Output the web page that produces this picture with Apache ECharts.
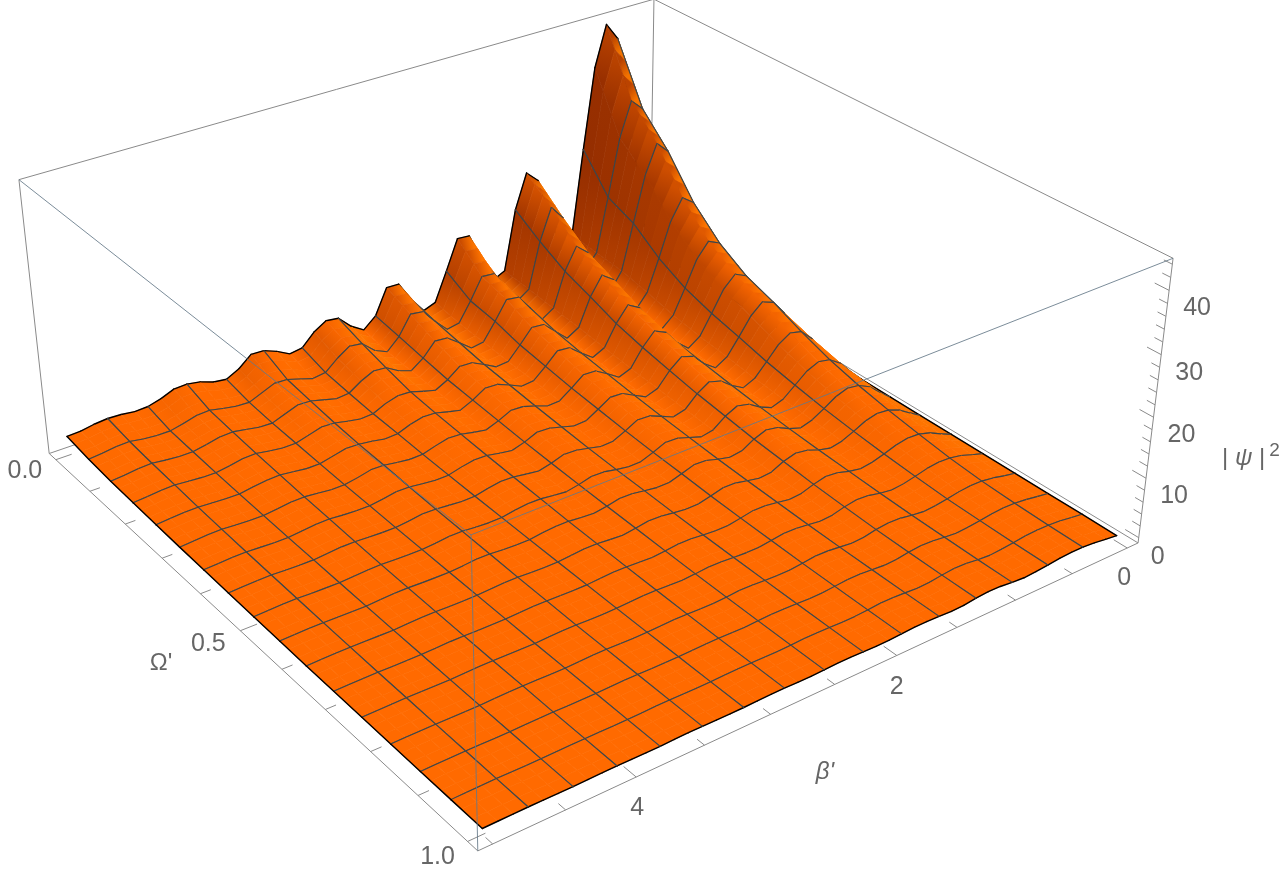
<!DOCTYPE html>
<html><head><meta charset="utf-8">
<style>html,body{margin:0;padding:0;background:#fff}#c{width:1281px;height:870px}</style>
<script src="https://cdn.jsdelivr.net/npm/echarts@6/dist/echarts.min.js"></script>
</head><body><div id="c"></div>
<script>
// ---- data ----
const betaMax = 5, omegaMax = 1;
const meshCells = 16, betaSamplesPerCell = 3;
const betaMinorTicks = [0,0.5,1,1.5,2,2.5,3,3.5,4,4.5,5];
const betaLabels = ['0','2','4'];
const omegaMinorTicks = [0,0.1,0.2,0.3,0.4,0.5,0.6,0.7,0.8,0.9,1];
const omegaLabels = ['0.0','0.5','1.0'];
const zTicks = [0,2,4,6,8,10,12,14,16,18,20,22,24,26,28,30,32,34,36,38,40,42,44];
const zLabels = ['0','10','20','30','40'];
// |psi|^2: one row per Omega mesh line (0..1), 49 samples along beta (0..5)
const psiRows = [
[1,14,30,41,44,37,23,8,6, 13,20,22,16,5.5,4.5, 9,14,14.2,9,4,3.2, 6,9.5,9.6,5.2,3.4, 4.8,7,7.3,6,3.9,3.6, 4.8,5.7,5.8,4,2.9,3.2, 4,4.4,4.3,3.4,2.8,2.7, 3,3.1,2.9,2.5,2.4],
[.8,11,23,31,33,27,17,7.5,5, 9,16,18.5,13,5,3.6, 7,10,10.2,6.5,3.2,2.8, 5,7.5,7.8,4.5,2.5, 3.5,5.5,5.8,4.4,2.6,2.3, 3,3.7,3.8,2.9,2,2.1, 2.5,3,2.9,2.3,1.8,1.8, 2,2.4,2.3,2,1.8],
[.7,9,19,26,28,23,15,7,4, 7.5,12.5,14.3,10.5,4.5,3.2, 6,8.7,9,5.8,2.8,2.5, 4.2,5.8,6,3.7,2.2, 3,4.3,4.5,3.5,2.1,1.9, 2.5,3.1,3.2,2.4,1.6,1.7, 2.1,2.5,2.4,1.9,1.5,1.5, 1.7,2,1.9,1.6,1.4],
[.6,7,14.5,19.5,21,17.5,11.5,6,3.5, 6.5,10.5,12,8.8,4,2.8, 4.8,6.8,7,4.6,2.4,2.2, 3.4,4.5,4.6,3,1.9, 2.5,3.2,3.3,2.7,1.7,1.6, 2,2.5,2.6,2,1.4,1.4, 1.7,2.1,2,1.6,1.25,1.3, 1.5,1.7,1.6,1.4,1.2],
[.5,5.5,11,15,16,13.5,9,4.8,3, 5.2,8.4,9.6,7,3.4,2.4, 4,5.7,5.9,3.9,2.1,1.9, 2.9,3.8,3.9,2.6,1.6, 2.1,2.7,2.8,2.3,1.5,1.4, 1.8,2.1,2.2,1.7,1.2,1.2, 1.5,1.8,1.7,1.4,1.05,1.1, 1.25,1.4,1.35,1.2,1],
[.45,4.5,9,12,13,11,7.4,4,2.6, 4.4,7,8,5.8,2.8,2, 3.4,4.7,4.8,3.2,1.7,1.6, 2.4,3.1,3.2,2.2,1.4, 1.8,2.3,2.4,1.9,1.25,1.2, 1.5,1.85,1.9,1.4,1,1.02, 1.25,1.5,1.45,1.15,.9,.92, 1.05,1.2,1.15,1,.85],
[.4,3.8,7.6,10.2,11,9.2,6.2,3.4,2.2, 3.7,5.8,6.5,4.8,2.4,1.7, 2.8,3.9,4,2.7,1.45,1.35, 2,2.6,2.7,1.8,1.15, 1.5,1.95,2,1.6,1.05,1, 1.25,1.55,1.6,1.2,.9,.92, 1.05,1.28,1.22,.98,.75,.78, .88,1,.96,.85,.72],
[.35,3,6,8,8.5,7.2,4.9,2.7,1.8, 3,4.6,5.2,3.9,1.9,1.4, 2.3,3.2,3.3,2.2,1.2,1.1, 1.6,2.1,2.2,1.5,1, 1.3,1.65,1.7,1.35,.88,.85, 1.05,1.27,1.3,1,.76,.78, .88,1.03,1,.82,.65,.67, .74,.85,.82,.72,.6],
[.3,2.4,4.7,6.1,6.5,5.6,3.9,2.2,1.5, 2.4,3.7,4.2,3.2,1.6,1.2, 1.9,2.6,2.7,1.8,1,.95, 1.3,1.75,1.8,1.25,.85, 1.1,1.37,1.4,1.15,.77,.75, .9,1.08,1.1,.85,.66,.67, .74,.84,.82,.68,.55,.57, .62,.7,.67,.6,.5],
[.25,1.9,3.7,4.7,5,4.3,3,1.8,1.2, 1.9,2.9,3.3,2.5,1.3,1, 1.5,2.1,2.2,1.5,.82,.8, 1.1,1.45,1.5,1.05,.7, .85,1.08,1.1,.9,.62,.6, .72,.88,.9,.7,.55,.56, .6,.69,.67,.56,.45,.47, .5,.55,.53,.47,.4],
[.22,1.5,2.8,3.6,3.8,3.3,2.3,1.4,1, 1.5,2.3,2.6,2,1,.8, 1.2,1.65,1.7,1.15,.63,.6, .85,1.15,1.2,.85,.55, .7,.88,.9,.72,.52,.5, .58,.68,.7,.56,.45,.46, .48,.55,.53,.44,.35,.37, .4,.45,.43,.38,.3],
[.2,1.1,2.1,2.7,2.8,2.4,1.7,1.1,.8, 1.2,1.8,2,1.5,.8,.6, .95,1.27,1.3,.9,.52,.5, .68,.87,.9,.66,.45, .55,.68,.7,.57,.42,.4, .46,.54,.55,.44,.35,.36, .39,.44,.43,.36,.3,.3, .32,.35,.34,.3,.25],
[.18,.8,1.5,1.9,2,1.75,1.25,.8,.6, .9,1.35,1.5,1.15,.6,.45, .72,.97,1,.7,.42,.4, .52,.67,.7,.5,.35, .42,.53,.55,.44,.32,.3, .34,.39,.4,.33,.25,.26, .29,.34,.33,.28,.22,.23, .26,.3,.28,.25,.2],
[.15,.55,1.05,1.35,1.4,1.2,.85,.55,.4, .65,1,1.1,.85,.42,.3, .55,.77,.8,.52,.32,.3, .4,.53,.55,.38,.25, .3,.38,.4,.33,.23,.22, .27,.34,.35,.27,.2,.2, .24,.29,.28,.23,.16,.17, .19,.22,.21,.18,.14],
[.12,.45,.8,1.05,1.1,.95,.68,.44,.3, .5,.77,.85,.65,.34,.25, .42,.58,.6,.4,.22,.2, .3,.38,.4,.3,.2, .24,.29,.3,.25,.18,.18, .2,.24,.25,.2,.15,.15, .17,.2,.19,.16,.12,.12, .15,.18,.16,.14,.1],
[.1,.38,.68,.86,.9,.78,.55,.32,.2, .38,.63,.7,.52,.24,.18, .32,.44,.45,.3,.17,.15, .22,.29,.3,.22,.15, .19,.24,.25,.2,.13,.12, .15,.19,.2,.15,.1,.1, .12,.15,.14,.12,.08,.08, .11,.14,.12,.1,.07],
[.05,.3,.6,.76,.8,.68,.46,.26,.15, .3,.54,.6,.44,.18,.12, .25,.34,.35,.22,.12,.1, .17,.24,.25,.17,.1, .14,.19,.2,.15,.09,.08, .11,.14,.15,.11,.06,.07, .08,.1,.1,.08,.05,.05, .07,.1,.09,.07,.05]
];

// ---- view: camera calibrated on the eight corners of the plot box ----
const boxRange = {beta:[-0.1,5.1], omega:[-0.02,1.02], z:[-0.9,44.9]};
const cameraAnchors = [
 [0,0,0,650,248],[0,0,1,654,-1],[1,0,0,49,453],[1,0,1,19,180],
 [0,1,0,1138,543],[0,1,1,1173,258],[1,1,0,478,851],[1,1,1,471,535]];
function solveCamera(pts){
  const A=[],B=[];
  pts.forEach(([a,b,c,u,v])=>{
    A.push([a,b,c,1,0,0,0,0,-u*a,-u*b,-u*c]);B.push(u);
    A.push([0,0,0,0,a,b,c,1,-v*a,-v*b,-v*c]);B.push(v);
  });
  const n=11,M=[];
  for(let i=0;i<n;i++){M.push([]);
    for(let j=0;j<n;j++){let s=0;for(let r=0;r<A.length;r++)s+=A[r][i]*A[r][j];M[i].push(s);}
    let s=0;for(let r=0;r<A.length;r++)s+=A[r][i]*B[r];M[i].push(s);}
  for(let i=0;i<n;i++){
    let p=i;for(let r=i+1;r<n;r++)if(Math.abs(M[r][i])>Math.abs(M[p][i]))p=r;
    [M[i],M[p]]=[M[p],M[i]];
    for(let r=0;r<n;r++){if(r===i)continue;const f=M[r][i]/M[i][i];for(let c=i;c<=n;c++)M[r][c]-=f*M[i][c];}
  }
  return M.map((row,i)=>row[n]/row[i]);
}
const cam = solveCamera(cameraAnchors);
function projBox(a,b,c){
  const w=cam[8]*a+cam[9]*b+cam[10]*c+1;
  return [(cam[0]*a+cam[1]*b+cam[2]*c+cam[3])/w,(cam[4]*a+cam[5]*b+cam[6]*c+cam[7])/w];
}
const frac=(v,r)=>(v-r[0])/(r[1]-r[0]);
function proj(beta,omega,z){return projBox(frac(beta,boxRange.beta),frac(omega,boxRange.omega),frac(z,boxRange.z));}

// ---- styles ----
const flat=[255,106,0], bright=[255,118,0], dark=[128,34,0], olive=[165,95,0];
const meshColor='#3a464c', edgeColor='#000', boxColor='#8a8a8a', overColor='rgba(100,120,135,0.85)', textColor='#666';
const font='25px "Liberation Sans"';
const stripsPerCell=3;
const mix=(p,q,t)=>p.map((v,i)=>v+(q[i]-v)*t);
const rgb=c=>'rgb('+c.map(Math.round).join(',')+')';
const lastK=psiRows[0].length-1, lastJ=psiRows.length-1;
function vertexShade(k,j){
  const k0=Math.max(0,k-1),k1=Math.min(lastK,k+1),j0=Math.max(0,j-1),j1=Math.min(lastJ,j+1);
  const gk=(psiRows[j][k1]-psiRows[j][k0])/(k1-k0);
  const gj=(psiRows[j1][k]-psiRows[j0][k])/(j1-j0);
  const slope=-gk-0.35*gj;
  const dead=0.15;
  if(slope>dead){const s=slope-dead,t=1-1/Math.sqrt(1+s*s/6.25);return mix(flat,dark,t);}
  if(slope<-dead){const s=-slope-dead,b=mix(flat,bright,Math.min(1,s/0.8)),t=1-1/Math.sqrt(1+s*s/25);return mix(b,olive,t);}
  return flat;
}
const shades=psiRows.map((row,j)=>row.map((_,k)=>vertexShade(k,j)));

// ---- marks ----
const betaOf=k=>k*betaMax/(meshCells*betaSamplesPerCell);
const omegaOf=j=>j*omegaMax/meshCells;
const cells=[];
for(let k=0;k<lastK;k++)for(let j=0;j<lastJ;j++)cells.push([k,j]);
const lerp=(p,q,t)=>[p[0]+(q[0]-p[0])*t,p[1]+(q[1]-p[1])*t];

function renderCell(params,api){
  const k=api.value(0),j=api.value(1);
  const P=(kk,jj)=>api.coord(proj(betaOf(kk),omegaOf(jj),psiRows[jj][kk]));
  const a=P(k,j),b=P(k+1,j),c=P(k+1,j+1),d=P(k,j+1);
  const children=[];
  for(let s=0;s<stripsPerCell;s++){
    const t0=s/stripsPerCell,t1=(s+1)/stripsPerCell,tm=(t0+t1)/2;
    const l0=lerp(a,d,t0),l1=lerp(a,d,t1),r0=lerp(b,c,t0),r1=lerp(b,c,t1);
    const lm=lerp(a,d,tm),rm=lerp(b,c,tm);
    const grad=new echarts.graphic.LinearGradient(lm[0],lm[1],rm[0],rm[1],[
      {offset:0,color:rgb(mix(shades[j][k],shades[j+1][k],tm))},
      {offset:1,color:rgb(mix(shades[j][k+1],shades[j+1][k+1],tm))}],true);
    children.push({type:'polygon',shape:{points:[l0,r0,r1,l1]},style:{fill:grad,stroke:grad,lineWidth:0.7}});
  }
  const seg=(p,q,edge)=>children.push({type:'line',shape:{x1:p[0],y1:p[1],x2:q[0],y2:q[1]},
    style:{stroke:edge?edgeColor:meshColor,lineWidth:edge?1.4:1.1,lineCap:'round'}});
  seg(a,b,j===0);
  seg(d,c,j+1===lastJ);
  if(k%betaSamplesPerCell===0)seg(a,d,k===0);
  if((k+1)%betaSamplesPerCell===0)seg(b,c,k+1===lastK);
  return {type:'group',children};
}

const B=boxRange;
const corner=(i)=>[i&1,(i>>1)&1,(i>>2)&1]; // bit0 beta, bit1 omega, bit2 z
const backEdges=[[0,1],[0,2],[4,5],[4,6],[0,4],[1,5],[2,6],[1,3],[2,3]];
const frontEdges=[[5,7],[6,7],[3,7]];
function edgeSeries(list,color,z){
  return {type:'custom',coordinateSystem:'cartesian2d',z,silent:true,animation:false,
    data:list.map((e,i)=>[i,i]),
    renderItem(params,api){
      const e=list[params.dataIndex],p=api.coord(projBox(...corner(e[0]))),q=api.coord(projBox(...corner(e[1])));
      return {type:'line',shape:{x1:p[0],y1:p[1],x2:q[0],y2:q[1]},style:{stroke:color,lineWidth:1}};
    }};
}
const tickSegs=[];
omegaMinorTicks.forEach((w,i)=>{const m=i%5===0?0.12:0.075;tickSegs.push([[B.beta[1],w,B.z[0]],[B.beta[1]-m,w,B.z[0]]]);});
betaMinorTicks.forEach((b,i)=>{const m=i%4===0?0.024:0.014;tickSegs.push([[b,B.omega[1],B.z[0]],[b,B.omega[1]-m,B.z[0]]]);});
zTicks.forEach((z,i)=>{const m=i%5===0?0.024:0.014;tickSegs.push([[B.beta[0],B.omega[1],z],[B.beta[0],B.omega[1]-m,z]]);});

const labels=[
 {t:omegaLabels[0],at:[B.beta[1],0,B.z[0]],d:[-31,11]},
 {t:omegaLabels[1],at:[B.beta[1],0.5,B.z[0]],d:[-32,13]},
 {t:omegaLabels[2],at:[B.beta[1],1,B.z[0]],d:[-30,16]},
 {t:betaLabels[0],at:[0,B.omega[1],B.z[0]],d:[-3,30]},
 {t:betaLabels[1],at:[2,B.omega[1],B.z[0]],d:[0,32]},
 {t:betaLabels[2],at:[4,B.omega[1],B.z[0]],d:[1,31]},
 {t:zLabels[0],at:[B.beta[0],B.omega[1],0],d:[19,19]},
 {t:zLabels[1],at:[B.beta[0],B.omega[1],10],d:[28,18]},
 {t:zLabels[2],at:[B.beta[0],B.omega[1],20],d:[28,18]},
 {t:zLabels[3],at:[B.beta[0],B.omega[1],30],d:[28,18]},
 {t:zLabels[4],at:[B.beta[0],B.omega[1],40],d:[28,18]}
];
const titles=[
 {rich:"{r|Ω'}",at:[161,663]},
 {rich:"{i|β'}",at:[825,772]},
 {rich:'{r|| }{i|ψ}{r| |}{s|2}',at:[1251,458]}
];
const richStyles={
 r:{font:'24px "Liberation Sans"',fill:textColor},
 i:{font:'italic 24px "Liberation Sans"',fill:textColor},
 s:{font:'19px "Liberation Sans"',fill:textColor,padding:[0,0,14,4]}
};

const option={
 animation:false,
 grid:{left:0,right:0,top:0,bottom:0},
 xAxis:{type:'value',min:0,max:1281,show:false},
 yAxis:{type:'value',min:0,max:870,inverse:true,show:false},
 series:[
  edgeSeries(backEdges,boxColor,1),
  {type:'custom',coordinateSystem:'cartesian2d',z:1,silent:true,animation:false,
   data:tickSegs.map((e,i)=>[i,i]),
   renderItem(params,api){const e=tickSegs[params.dataIndex],p=api.coord(proj(...e[0])),q=api.coord(proj(...e[1]));
     return {type:'line',shape:{x1:p[0],y1:p[1],x2:q[0],y2:q[1]},style:{stroke:boxColor,lineWidth:1}};}},
  {type:'custom',name:'|psi|^2',coordinateSystem:'cartesian2d',z:2,silent:true,animation:false,
   progressive:0,data:cells,encode:{x:0,y:1},renderItem:renderCell},
  edgeSeries(frontEdges,overColor,3),
  {type:'custom',coordinateSystem:'cartesian2d',z:4,silent:true,animation:false,
   data:labels.map((e,i)=>[i,i]),
   renderItem(params,api){const l=labels[params.dataIndex],p=api.coord(proj(...l.at));
     return {type:'text',x:p[0]+l.d[0],y:p[1]+l.d[1],style:{text:l.t,font,fill:textColor,align:'center',verticalAlign:'middle'}};}},
  {type:'custom',coordinateSystem:'cartesian2d',z:4,silent:true,animation:false,
   data:titles.map((e,i)=>[i,i]),
   renderItem(params,api){const l=titles[params.dataIndex],p=api.coord(l.at);
     return {type:'text',x:p[0],y:p[1],style:{text:l.rich,rich:richStyles,align:'center',verticalAlign:'middle'}};}}
 ]
};
const chart=echarts.init(document.getElementById('c'),null,{renderer:'canvas'});
chart.setOption(option);
</script></body></html>
